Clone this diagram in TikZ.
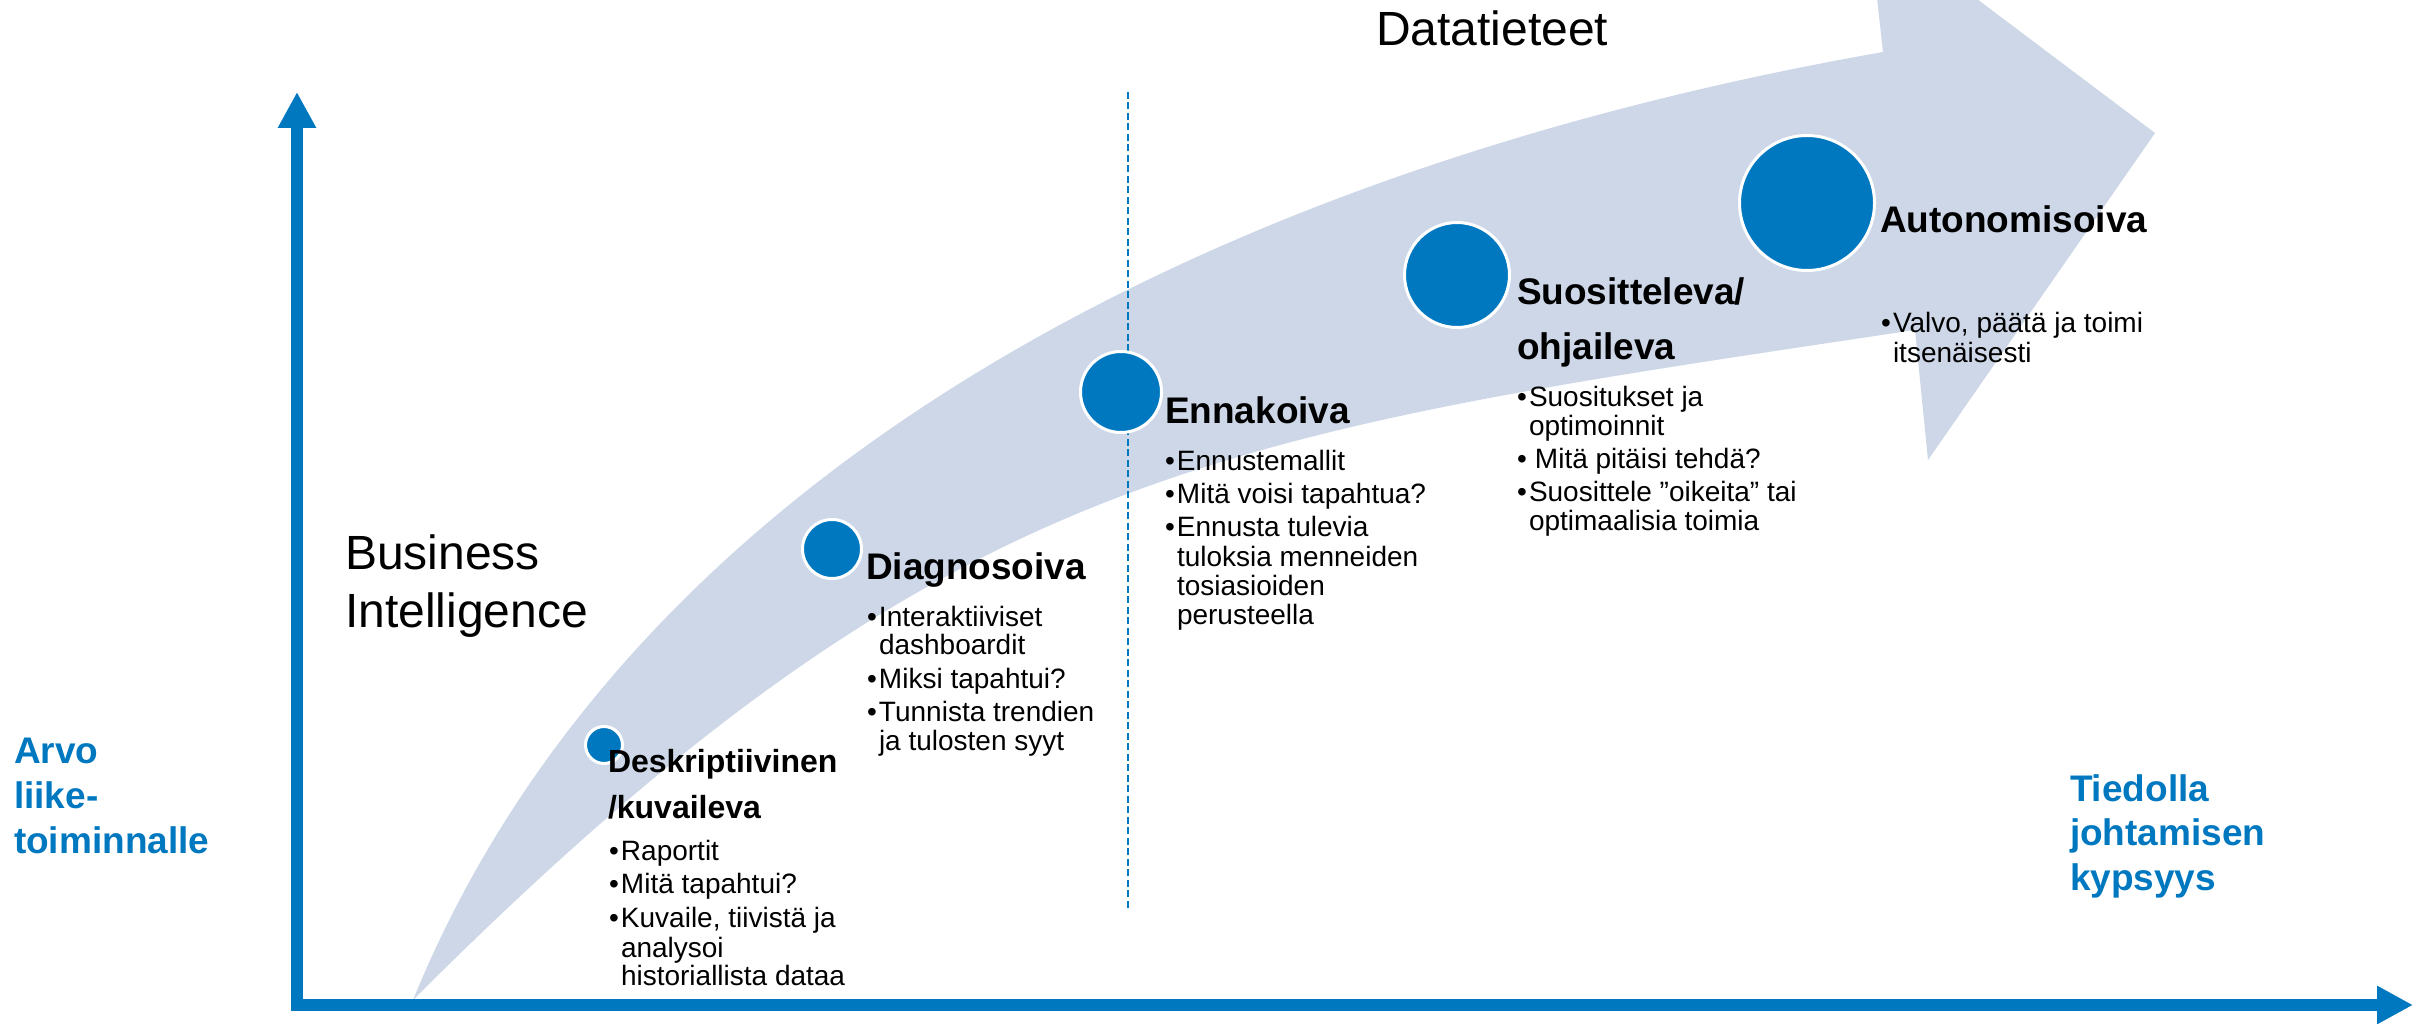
\documentclass[tikz,border=0pt]{standalone}
\usepackage{fontspec}
\setmainfont{Liberation Sans}
\usetikzlibrary{arrows.meta}
\definecolor{axisblue}{RGB}{0,120,192}
\definecolor{bandblue}{RGB}{205,215,232}
\newcommand\bl{\makebox[12pt][l]{•}}
\newcommand\bls{\makebox[18pt][l]{•}}
\begin{document}
\begin{tikzpicture}[x=1pt,y=-1pt,
  txt/.style={anchor=base west, inner sep=0pt, outer sep=0pt},
  stitle/.style={txt, font=\fontsize{37}{44}\selectfont\bfseries},
  dtitle/.style={txt, font=\fontsize{32}{38}\selectfont\bfseries},
  bul/.style={txt, font=\fontsize{28}{34}\selectfont},
  big/.style={txt, font=\fontsize{48}{58}\selectfont},
  axlabel/.style={txt, font=\fontsize{37}{45}\selectfont\bfseries, text=axisblue},
  stage/.style={circle, fill=axisblue, draw=white, line width=3pt, inner sep=0pt},
  axisline/.style={draw=axisblue, line width=12pt, -{Triangle[length=36pt,width=36pt]}},
  divider/.style={draw=axisblue, line width=1.5pt, dash pattern=on 7pt off 3.5pt},
]
\useasboundingbox (0,0) rectangle (2420,1024);
\clip (0,0) rectangle (2420,1024);
% big curved arrow
\fill[bandblue] (413,1000) .. controls (625,480) and (1200,172) .. (1883,52)
  -- (1868,-83) -- (2155,133) -- (1928,460) -- (1915,330)
  .. controls (1215,435) and (949,464) .. (413,1000) -- cycle;
% dashed divider
\coordinate (dtop) at (1128,92);
\coordinate (dbot) at (1128,910);
\draw[divider] (dtop) -- (dbot);
% axes
\coordinate (O) at (297,1005);
\coordinate (Y) at (297,92);
\coordinate (X) at (2413,1005);
\draw[axisline] ([yshift=-6pt]O) -- (Y);
\draw[axisline] ([xshift=-6pt]O) -- (X);
% stage circles
\node[stage, minimum size=37pt] (c1) at (604,745) {};
\node[stage, minimum size=59pt] (c2) at (832,549) {};
\node[stage, minimum size=81pt] (c3) at (1121,392) {};
\node[stage, minimum size=105pt] (c4) at (1457,275) {};
\node[stage, minimum size=135pt] (c5) at (1807,203) {};
% headings
\node[big] (datatieteet) at (1376,46) {Datatieteet};
\node[big] (bi1) at (345,569) {Business};
\node[big] (bi2) at (345,627) {Intelligence};
\node[axlabel] (arvo1) at (14,763) {Arvo};
\node[axlabel] (arvo2) at (14,808) {liike-};
\node[axlabel] (arvo3) at (14,853) {toiminnalle};
\node[axlabel] (tied1) at (2070,801) {Tiedolla};
\node[axlabel] (tied2) at (2070,845) {johtamisen};
\node[axlabel] (tied3) at (2070,890) {kypsyys};
% Deskriptiivinen
\node[dtitle] (d1) at (608,772) {Deskriptiivinen};
\node[dtitle] (d2) at (608,818) {/kuvaileva};
\node[bul] (db1) at (609,860) {\bl Raportit};
\node[bul] (db2) at (609,893) {\bl Mitä tapahtui?};
\node[bul] (db3) at (609,927) {\bl Kuvaile, tiivistä ja};
\node[bul] (db4) at (621,957) {analysoi};
\node[bul] (db5) at (621,985) {historiallista dataa};
% Diagnosoiva
\node[stitle] (g1) at (866,579) {Diagnosoiva};
\node[bul] (gb1) at (867,626) {\bl Interaktiiviset};
\node[bul] (gb2) at (879,654) {dashboardit};
\node[bul] (gb3) at (867,688) {\bl Miksi tapahtui?};
\node[bul] (gb4) at (867,721) {\bl Tunnista trendien};
\node[bul] (gb5) at (879,750) {ja tulosten syyt};
% Ennakoiva
\node[stitle] (e1) at (1165,423) {Ennakoiva};
\node[bul] (eb1) at (1165,470) {\bl Ennustemallit};
\node[bul] (eb2) at (1165,503) {\bl Mitä voisi tapahtua?};
\node[bul] (eb3) at (1165,536) {\bl Ennusta tulevia};
\node[bul] (eb4) at (1177,566) {tuloksia menneiden};
\node[bul] (eb5) at (1177,595) {tosiasioiden};
\node[bul] (eb6) at (1177,624) {perusteella};
% Suositteleva
\node[stitle] (s1) at (1517,305) {Suositteleva/};
\node[stitle] (s2) at (1517,359) {ohjaileva};
\node[bul] (sb1) at (1517,406) {\bl Suositukset ja};
\node[bul] (sb2) at (1529,435) {optimoinnit};
\node[bul] (sb3) at (1517,468) {\bls Mitä pitäisi tehdä?};
\node[bul] (sb4) at (1517,501) {\bl Suosittele ”oikeita” tai};
\node[bul] (sb5) at (1529,530) {optimaalisia toimia};
% Autonomisoiva
\node[stitle] (a1) at (1880,233) {Autonomisoiva};
\node[bul] (ab1) at (1881,333) {\bl Valvo, päätä ja toimi};
\node[bul] (ab2) at (1893,362) {itsenäisesti};
\end{tikzpicture}
\end{document}
